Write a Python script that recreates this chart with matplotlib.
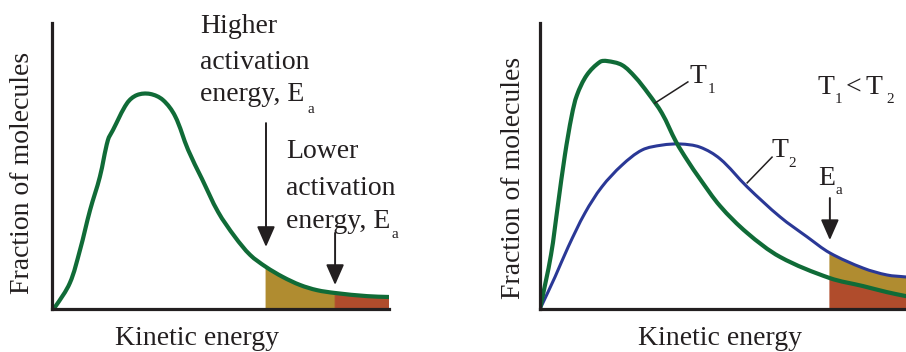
import numpy as np
import matplotlib
matplotlib.use("Agg")
import matplotlib.pyplot as plt
from matplotlib.path import Path
from matplotlib.patches import PathPatch

W, H = 906, 352
plt.rcParams["font.family"] = ["Liberation Serif", "DejaVu Serif"]

# ---- left panel: one distribution, two activation energies ----
energy_a = [0.0, 0.9, 5.3, 8.3, 11.3, 14.2, 16.6, 18.1, 22.3, 25.2, 29.1, 32.9,
            36.5, 40.4, 44.5, 49.3, 54.3, 58.8, 63.5, 68.5, 73.6, 78.6, 84.0,
            93.5, 100.0]
frac_a = [0.0, 0.7, 9.1, 20.6, 34.6, 46.2, 59.1, 62.6, 72.0, 74.8, 75.2, 73.1,
          67.5, 55.6, 45.5, 33.9, 25.2, 18.9, 14.7, 11.2, 8.4, 6.6, 5.6,
          4.5, 4.2]
ea_high = 63.5
ea_low = 84.0

# ---- right panel: two temperatures, one activation energy ----
energy_t1 = [0.0, 3.0, 4.9, 6.8, 8.7, 10.1, 12.8, 16.4, 18.3, 22.4, 26.0, 29.5,
             33.3, 37.2, 40.2, 43.7, 49.2, 56.6, 65.6, 79.2, 88.3, 94.8, 100.0]
frac_t1 = [0.0, 18.9, 36.4, 53.8, 67.8, 74.8, 81.8, 86.4, 86.7, 85.3, 81.1, 75.5,
           68.5, 58.4, 52.1, 45.5, 36.0, 26.6, 18.2, 10.8, 8.0, 5.9, 4.5]
energy_t2 = [0.0, 4.1, 7.7, 12.3, 16.9, 22.4, 27.9, 33.3, 38.3, 43.7, 49.2,
             56.6, 65.6, 73.0, 79.2, 88.3, 94.8, 100.0]
frac_t2 = [0.0, 11.2, 21.7, 33.6, 42.7, 50.3, 55.6, 57.3, 57.7, 56.6, 52.5,
           42.7, 32.2, 25.2, 19.6, 14.3, 11.9, 11.2]
ea_right = 79.2

GREEN = "#106b37"
BLUE = "#2a3896"
OCHRE = "#b08c30"
RUST = "#b04c2c"
INK = "#231f20"

fig = plt.figure(figsize=(W / 100, H / 100), dpi=100)


def px_axes(x0, x1, y_top, y_bot):
    ax = fig.add_axes([x0 / W, 1 - y_bot / H, (x1 - x0) / W, (y_bot - y_top) / H])
    ax.px_scale = ((x1 - x0) / 100.0, (y_bot - y_top) / 100.0)
    return ax


def style(ax):
    ax.set_xlim(0, 100)
    ax.set_ylim(0, 100)
    for s in ("top", "right"):
        ax.spines[s].set_visible(False)
    for s in ("left", "bottom"):
        ax.spines[s].set_linewidth(2.3)
        ax.spines[s].set_color(INK)
        ax.spines[s].set_zorder(4)
    ax.set_xticks([])
    ax.set_yticks([])
    ax.patch.set_alpha(0)


def bezier_segments(ax, x, y):
    """Smooth cubic segments through every (x, y) point, tangents from neighbours."""
    sx, sy = ax.px_scale
    P = np.column_stack([np.asarray(x, float) * sx, np.asarray(y, float) * sy])
    n = len(P)
    T = np.zeros_like(P)
    for i in range(n):
        d = P[min(i + 1, n - 1)] - P[max(i - 1, 0)]
        T[i] = d / np.hypot(*d)
    segs = []
    for i in range(n - 1):
        L = np.hypot(*(P[i + 1] - P[i]))
        c1 = P[i] + T[i] * L / 3
        c2 = P[i + 1] - T[i + 1] * L / 3
        segs.append(np.array([P[i], c1, c2, P[i + 1]]) / [sx, sy])
    return segs


def curve_verts(segs, reverse=False):
    if reverse:
        segs = [s[::-1] for s in segs[::-1]]
    verts = [segs[0][0]]
    codes = [Path.MOVETO]
    for s in segs:
        verts += [s[1], s[2], s[3]]
        codes += [Path.CURVE4] * 3
    return verts, codes


def draw_curve(ax, segs, color, lw):
    v, c = curve_verts(segs)
    ax.add_patch(PathPatch(Path(v, c), fill=False, ec=color, lw=lw,
                           capstyle="round", joinstyle="round", zorder=3))


def fill_under(ax, segs, color):
    v, c = curve_verts(segs)
    v += [(v[-1][0], 0), (v[0][0], 0), v[0]]
    c += [Path.LINETO, Path.LINETO, Path.CLOSEPOLY]
    ax.add_patch(PathPatch(Path(v, c), fc=color, ec=color, lw=0.6, zorder=1))


def fill_between_curves(ax, upper, lower, color):
    vu, cu = curve_verts(upper)
    vl, cl = curve_verts(lower, reverse=True)
    cl[0] = Path.LINETO
    v = vu + vl + [vu[0]]
    c = cu + cl + [Path.CLOSEPOLY]
    ax.add_patch(PathPatch(Path(v, c), fc=color, ec=color, lw=0.6, zorder=1))


def put(x, y, s, size=20, **kw):
    fig.text(x / W, 1 - y / H, s, fontsize=size, color=INK,
             ha=kw.pop("ha", "left"), va=kw.pop("va", "baseline"), **kw)


def arrow(ax, x, y_tail, y_tip):
    ax.annotate("", xy=(x, y_tip), xytext=(x, y_tail),
                arrowprops=dict(arrowstyle="-|>,head_length=1.25,head_width=0.55",
                                mutation_scale=10, lw=1.4, color=INK,
                                shrinkA=0, shrinkB=0),
                annotation_clip=False)


# left panel
axL = px_axes(52, 389, 23, 309)
style(axL)
segA = bezier_segments(axL, energy_a, frac_a)
i_hi = energy_a.index(ea_high)
i_lo = energy_a.index(ea_low)
fill_under(axL, segA[i_hi:i_lo], OCHRE)
fill_under(axL, segA[i_lo:], RUST)
draw_curve(axL, segA, GREEN, 3.0)
arrow(axL, ea_high, 65.0, 21.7)
arrow(axL, ea_low, 26.6, 8.4)

put(200, 33, "Higher")
put(200, 69, "activation")
put(200, 101, "energy, E")
put(308, 113, "a", size=11)
put(286, 158, "Lower")
put(286, 195, "activation")
put(286, 228, "energy, E")
put(391, 238, "a", size=11)
put(23, 173, "Fraction of molecules", rotation=90, ha="center", va="center")
put(197, 345, "Kinetic energy", ha="center")

# right panel
axR = px_axes(540, 906, 23, 309)
style(axR)
seg1 = bezier_segments(axR, energy_t1, frac_t1)
seg2 = bezier_segments(axR, energy_t2, frac_t2)
j1 = energy_t1.index(ea_right)
j2 = energy_t2.index(ea_right)
fill_between_curves(axR, seg2[j2:], seg1[j1:], OCHRE)
fill_under(axR, seg1[j1:], RUST)
draw_curve(axR, seg2, BLUE, 2.2)
draw_curve(axR, seg1, GREEN, 3.0)
arrow(axR, ea_right, 38.8, 24.1)

# leader lines to the curve labels
axR.plot([31.4, 40.4], [72.0, 79.4], color=INK, lw=1.1, zorder=3, clip_on=False)
axR.plot([56.6, 63.4], [44.1, 53.1], color=INK, lw=1.1, zorder=3, clip_on=False)

put(689, 83, "T")
put(708, 93, "1", size=11)
put(772, 157, "T")
put(788, 167, "2", size=11)
put(817, 94, "T")
put(835, 103, "1", size=11)
put(846, 94, "<")
put(865, 94, "T")
put(886, 103, "2", size=11)
put(818, 185, "E")
put(835, 194, "a", size=11)
put(513, 178, "Fraction of molecules", rotation=90, ha="center", va="center")
put(720, 345, "Kinetic energy", ha="center")

fig.savefig("out.png", dpi=100)
